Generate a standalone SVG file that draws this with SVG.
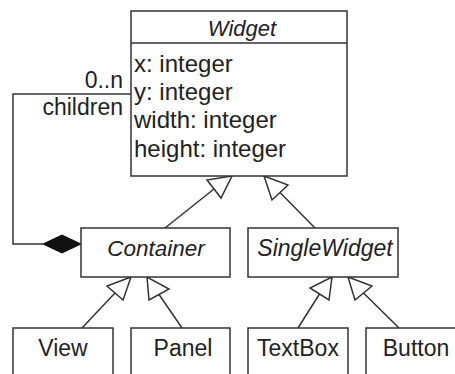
<svg xmlns="http://www.w3.org/2000/svg" width="455" height="374" viewBox="0 0 455 374">
<style>
  .box{fill:#fff;stroke:#333;stroke-width:1.5}
  .ln{fill:none;stroke:#333;stroke-width:1.5}
  .tri{fill:#fff;stroke:#333;stroke-width:1.5;stroke-linejoin:miter}
  text{font-family:"Liberation Sans",Arial,sans-serif;font-size:23px;fill:#222}
  .it{font-style:italic;font-size:22px}
  .at{font-size:24px}
  .c{text-anchor:middle}
  .r{text-anchor:end}
</style>
<rect width="455" height="374" fill="#fff"/>
<g id="connectors">
  <polyline class="ln" points="131,94 13,94 13,244 43,244"/>
  <polygon points="43,244 62,235 81,244 62,253" fill="#111" stroke="#111" stroke-width="1"/>
  <text class="r" x="123" y="88">0..n</text>
  <text class="r" x="123" y="115">children</text>
  <line class="ln" x1="165" y1="228" x2="214" y2="189"/>
  <polygon class="tri" points="232,176 207,180 221,198"/>
  <line class="ln" x1="315" y1="228" x2="280" y2="192.5"/>
  <polygon class="tri" points="264,176 272,200 288,185"/>
  <line class="ln" x1="82" y1="328" x2="115" y2="293"/>
  <polygon class="tri" points="131,277 107,286 123,300"/>
  <line class="ln" x1="182" y1="328" x2="159" y2="294.5"/>
  <polygon class="tri" points="147,277 149,300 169,289"/>
  <line class="ln" x1="298" y1="328" x2="319.5" y2="294"/>
  <polygon class="tri" points="332,277 310,288 329,300"/>
  <line class="ln" x1="399" y1="328" x2="363.5" y2="293"/>
  <polygon class="tri" points="348,277 355,300 372,286"/>
</g>
<g id="widget">
  <rect class="box" x="131" y="11" width="216" height="165"/>
  <line class="ln" x1="131" y1="43" x2="347" y2="43"/>
  <text class="it c" x="242" y="36">Widget</text>
  <text class="at" x="134" y="72">x: integer</text>
  <text class="at" x="134" y="100">y: integer</text>
  <text class="at" x="134" y="128">width: integer</text>
  <text class="at" x="134" y="157">height: integer</text>
</g>
<g id="container">
  <rect class="box" x="81" y="228" width="149" height="49"/>
  <text class="it c" x="156" y="256" style="font-size:22.5px">Container</text>
</g>
<g id="singlewidget">
  <rect class="box" x="248" y="228" width="150" height="49"/>
  <text class="it c" x="325" y="256" style="font-size:23px">SingleWidget</text>
</g>
<g id="view">
  <rect class="box" x="13" y="328" width="100" height="60"/>
  <text class="c" x="63" y="356">View</text>
</g>
<g id="panel">
  <rect class="box" x="131" y="328" width="99" height="60"/>
  <text class="c" x="183" y="356">Panel</text>
</g>
<g id="textbox">
  <rect class="box" x="248" y="328" width="100" height="60"/>
  <text class="c" x="298" y="356">TextBox</text>
</g>
<g id="button">
  <rect class="box" x="366" y="328" width="100" height="60"/>
  <text class="c" x="416" y="356">Button</text>
</g>
</svg>
